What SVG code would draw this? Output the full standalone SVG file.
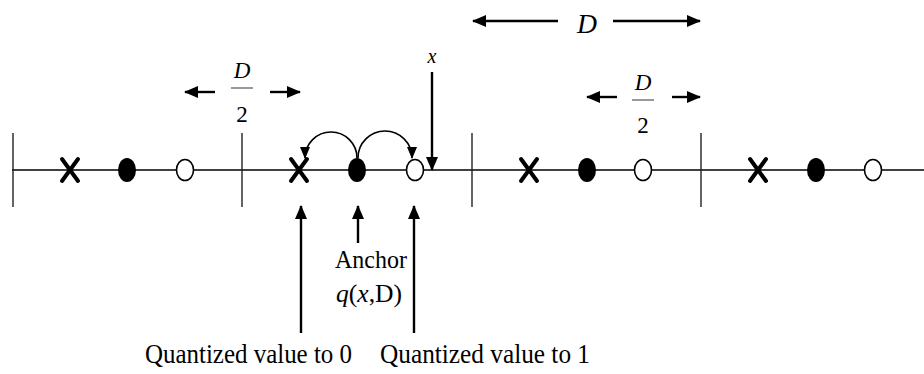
<svg xmlns="http://www.w3.org/2000/svg" width="924" height="374" viewBox="0 0 924 374">
<style>
.axis{stroke:#000;stroke-width:1.6;fill:none}
.tick{stroke:#222;stroke-width:1.4}
.xm{stroke:#000;stroke-width:4;stroke-linecap:round}
.full{fill:#000}
.open{fill:#fff;stroke:#000;stroke-width:1.6}
.arr{stroke:#000;stroke-width:2.4;fill:none;marker-end:url(#ah)}
.arc{stroke:#000;stroke-width:1.6;fill:none;marker-end:url(#ah2)}
text{font-family:"Liberation Serif","Times New Roman",serif;fill:#000}
.it{font-style:italic}
</style>
<defs>
<marker id="ah" markerUnits="userSpaceOnUse" markerWidth="14" markerHeight="12" refX="13" refY="6" orient="auto"><path d="M0,0 L14,6 L0,12 z" fill="#000"/></marker>
<marker id="ah2" markerUnits="userSpaceOnUse" markerWidth="12" markerHeight="10" refX="11" refY="5" orient="auto"><path d="M0,0 L12,5 L0,10 z" fill="#000"/></marker>
<g id="sym">
<line class="xm" x1="-8" y1="-11" x2="8" y2="11"/><line class="xm" x1="8" y1="-11" x2="-8" y2="11"/>
</g>
</defs>
<g id="axis">
<line class="axis" x1="12" y1="170" x2="924" y2="170"/>
<line class="tick" x1="13" y1="133" x2="13" y2="207"/>
<line class="tick" x1="242" y1="133" x2="242" y2="207"/>
<line class="tick" x1="472" y1="133" x2="472" y2="207"/>
<line class="tick" x1="701" y1="133" x2="701" y2="207"/>
</g>
<g id="cell1">
<use href="#sym" x="70" y="170"/>
<ellipse class="full" cx="127" cy="170" rx="9" ry="12"/>
<ellipse class="open" cx="185" cy="170" rx="8.5" ry="10.5"/>
</g>
<g id="cell2">
<use href="#sym" x="299" y="170"/>
<ellipse class="full" cx="357" cy="170" rx="9" ry="12"/>
<ellipse class="open" cx="415" cy="170" rx="8.5" ry="10.5"/>
</g>
<g id="cell3">
<use href="#sym" x="529" y="170"/>
<ellipse class="full" cx="587" cy="170" rx="9" ry="12"/>
<ellipse class="open" cx="643" cy="170" rx="8.5" ry="10.5"/>
</g>
<g id="cell4">
<use href="#sym" x="758" y="170"/>
<ellipse class="full" cx="816" cy="170" rx="9" ry="12"/>
<ellipse class="open" cx="873" cy="170" rx="8.5" ry="10.5"/>
</g>
<g id="connectors">
<path class="arc" d="M357,158 A26,26 0 0 0 305,158"/>
<path class="arc" d="M358,158 A27,27 0 0 1 412,158"/>
<line class="arr" x1="432" y1="72" x2="432" y2="170"/>
<line class="arr" x1="301" y1="333" x2="301" y2="206"/>
<line class="arr" x1="358" y1="243" x2="358" y2="206"/>
<line class="arr" x1="414" y1="333" x2="414" y2="206"/>
<line class="arr" x1="558" y1="21" x2="473" y2="21"/>
<line class="arr" x1="613" y1="21" x2="700" y2="21"/>
<line class="arr" x1="215" y1="92" x2="185" y2="92"/>
<line class="arr" x1="270" y1="92" x2="300" y2="92"/>
<line class="arr" x1="617" y1="97" x2="587" y2="97"/>
<line class="arr" x1="672" y1="97" x2="700" y2="97"/>
</g>
<g id="labels">
<text class="it" x="432" y="63" font-size="20" text-anchor="middle">x</text>
<text class="it" x="587" y="33" font-size="27" text-anchor="middle" textLength="20" lengthAdjust="spacingAndGlyphs">D</text>
<text class="it" x="242" y="78" font-size="23" text-anchor="middle">D</text>
<line x1="231" y1="88" x2="253" y2="88" stroke="#555" stroke-width="1.2"/>
<text x="242" y="122" font-size="23" text-anchor="middle">2</text>
<text class="it" x="643" y="90" font-size="23" text-anchor="middle">D</text>
<line x1="632" y1="100" x2="654" y2="100" stroke="#555" stroke-width="1.2"/>
<text x="643" y="133" font-size="23" text-anchor="middle">2</text>
<text x="335" y="268" font-size="26" textLength="72" lengthAdjust="spacingAndGlyphs">Anchor</text>
<text x="336" y="302" font-size="26" textLength="66" lengthAdjust="spacingAndGlyphs"><tspan class="it">q</tspan>(<tspan class="it">x</tspan>,D)</text>
<text x="145" y="363" font-size="28" textLength="207" lengthAdjust="spacingAndGlyphs">Quantized  value to 0</text>
<text x="380" y="363" font-size="28" textLength="210" lengthAdjust="spacingAndGlyphs">Quantized  value to 1</text>
</g>
</svg>
